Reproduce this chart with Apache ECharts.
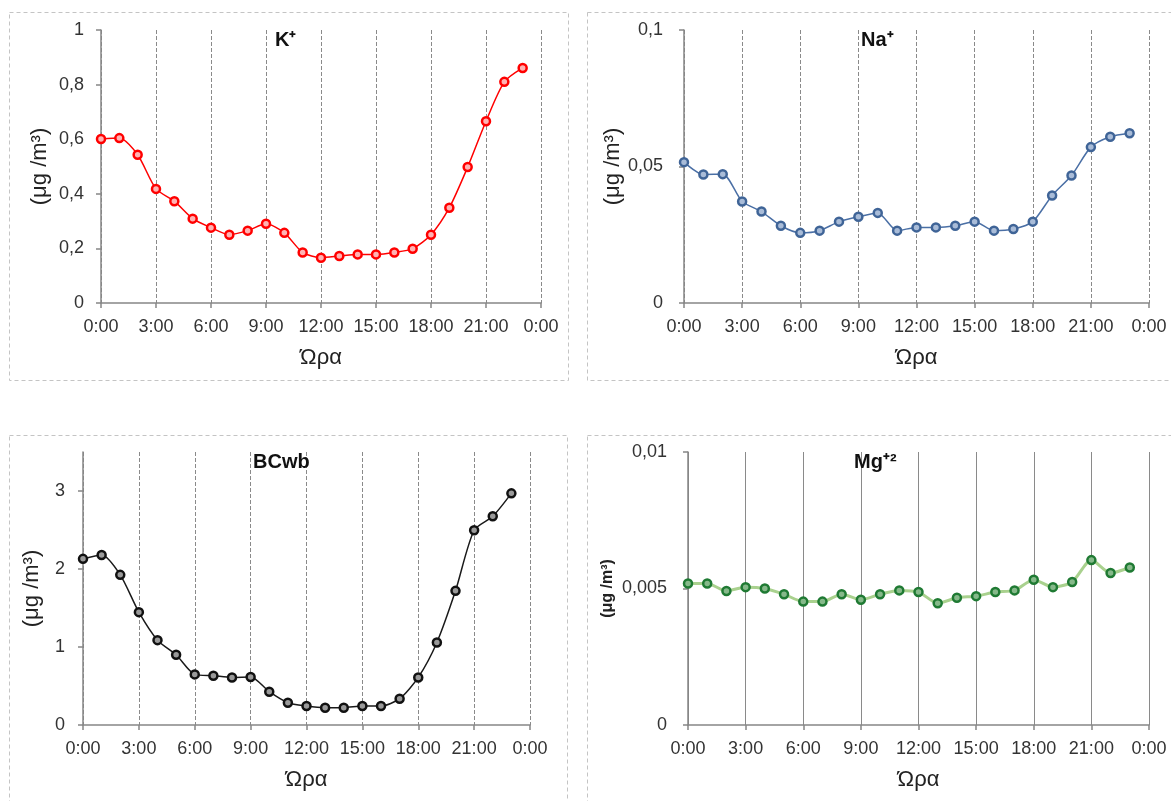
<!DOCTYPE html>
<html><head><meta charset="utf-8">
<script src="https://cdn.jsdelivr.net/npm/echarts@6/dist/echarts.min.js"></script>
<style>html,body{margin:0;padding:0;background:#fff}#c{width:1171px;height:801px}</style>
</head><body><div id="c"></div>
<script>
const hours = [0,1,2,3,4,5,6,7,8,9,10,11,12,13,14,15,16,17,18,19,20,21,22,23];
const xTickLabels = ['0:00','3:00','6:00','9:00','12:00','15:00','18:00','21:00','0:00'];
const kValues  = [0.601,0.604,0.543,0.418,0.373,0.309,0.276,0.250,0.265,0.290,0.257,0.185,0.166,0.172,0.178,0.178,0.185,0.199,0.250,0.349,0.498,0.666,0.810,0.861];
const naValues = [0.0516,0.0471,0.0472,0.0372,0.0335,0.0283,0.0257,0.0265,0.0298,0.0316,0.0330,0.0265,0.0277,0.0277,0.0283,0.0298,0.0265,0.0271,0.0298,0.0394,0.0467,0.0571,0.0609,0.0622];
const bcValues = [2.13,2.18,1.925,1.447,1.088,0.90,0.649,0.632,0.61,0.615,0.427,0.286,0.243,0.222,0.222,0.243,0.243,0.337,0.61,1.058,1.72,2.497,2.676,2.97];
const mgValues = [0.00518,0.00518,0.00491,0.00505,0.0050,0.00479,0.00452,0.00452,0.00479,0.00459,0.00479,0.00493,0.00487,0.00446,0.00466,0.00472,0.00487,0.00493,0.00532,0.00505,0.00524,0.00604,0.00557,0.00577];
const titles = ['K⁺','Na⁺','BCwb','Mg⁺²'];
const xName = 'Ώρα';
const yName = '(μg /m³)';

const FONT = 'Liberation Sans, Arial, sans-serif';
const panels = [
  {grid:{left:101,top:30,width:440,height:273}, data:kValues, yMax:1, yInt:0.2, line:'#ff0000', ring:'#ff0000', fill:'#ffb3b3', lw:1.5, dash:'dashed', title:[275,30], nameGap:50, lblMargin:17, nameBold:false, nameSize:22},
  {grid:{left:684,top:30,width:465,height:273}, data:naValues, yMax:0.1, yInt:0.05, line:'#4a6fa5', ring:'#3f6497', fill:'#a9bcd8', lw:1.5, dash:'dashed', title:[861,30], nameGap:54, lblMargin:21, nameBold:false, nameSize:22},
  {grid:{left:83,top:452,width:447,height:273}, data:bcValues, yMax:3.5, yInt:1, line:'#1a1a1a', ring:'#111111', fill:'#9a9a9a', lw:1.5, dash:'dashed', title:[253,452], nameGap:40, lblMargin:18, nameBold:false, nameSize:22, customTicks:[0,1,2,3]},
  {grid:{left:688,top:452,width:461,height:273}, data:mgValues, yMax:0.01, yInt:0.005, line:'#a9d18e', ring:'#1f7a33', fill:'#86b98a', lw:3, dash:'solid', title:[854,452], nameGap:72, lblMargin:21, nameBold:true, nameSize:16}
];

const fmtY = v => String(+v.toFixed(5)).replace('.', ',');
const option = {
  animation:false,
  backgroundColor:'#ffffff',
  title: panels.map((p,i)=>({text:titles[i], left:p.title[0], top:p.title[1], padding:0,
    textStyle:{fontFamily:FONT, fontWeight:'bold', fontSize:20, color:'#111'}})),
  grid: panels.map(p=>Object.assign({containLabel:false}, p.grid)),
  xAxis: panels.map((p,i)=>({type:'value', gridIndex:i, min:0, max:24, interval:3,
    name:xName, nameLocation:'middle', nameGap:44,
    nameTextStyle:{fontFamily:FONT, fontSize:22, color:'#222'},
    axisLine:{show:true, lineStyle:{color:'#868686', width:1.5}},
    axisTick:{show:true, inside:false, length:5, lineStyle:{color:'#868686', width:1.5}},
    axisLabel:{margin:15, fontFamily:FONT, fontSize:18, color:'#333', formatter:v=>xTickLabels[Math.round(v/3)]},
    splitLine:{show:true, lineStyle:{color:'#8a8a8a', width:1, type:p.dash}}
  })),
  yAxis: panels.map((p,i)=>{
    const ax = {type:'value', gridIndex:i, min:0, max:p.yMax, interval:p.yInt,
      name:yName, nameLocation:'middle', nameGap:p.nameGap, nameRotate:90,
      nameTextStyle:{fontFamily:FONT, fontSize:p.nameSize, fontWeight:p.nameBold?'bold':'normal', color:'#222'},
      axisLine:{show:true, lineStyle:{color:'#868686', width:1.5}},
      axisTick:{show:true, inside:false, length:5, lineStyle:{color:'#868686', width:1.5}},
      axisLabel:{margin:p.lblMargin, fontFamily:FONT, fontSize:18, color:'#333', formatter:fmtY},
      splitLine:{show:false}
    };
    if (p.customTicks) {
      ax.axisTick.customValues = p.customTicks;
      ax.axisLabel.customValues = p.customTicks;
    }
    return ax;
  }),
  series: panels.map((p,i)=>({type:'line', xAxisIndex:i, yAxisIndex:i,
    data: hours.map((h,j)=>[h, p.data[j]]),
    symbol:'circle', symbolSize:8, smooth:0.25,
    lineStyle:{color:p.line, width:p.lw},
    itemStyle:{color:p.fill, borderColor:p.ring, borderWidth:2.5},
    z:5
  })),
  graphic: [
    {type:'rect', shape:{x:9.5,y:12.5,width:559,height:368}, style:{fill:'none', stroke:'#c4c4c4', lineWidth:1, lineDash:[4,3]}, silent:true},
    {type:'rect', shape:{x:587.5,y:12.5,width:600,height:368}, style:{fill:'none', stroke:'#c4c4c4', lineWidth:1, lineDash:[4,3]}, silent:true},
    {type:'rect', shape:{x:9.5,y:435.5,width:558,height:400}, style:{fill:'none', stroke:'#c4c4c4', lineWidth:1, lineDash:[4,3]}, silent:true},
    {type:'rect', shape:{x:587.5,y:435.5,width:600,height:400}, style:{fill:'none', stroke:'#c4c4c4', lineWidth:1, lineDash:[4,3]}, silent:true}
  ]
};
const chart = echarts.init(document.getElementById('c'), null, {renderer:'canvas'});
chart.setOption(option);
</script></body></html>
